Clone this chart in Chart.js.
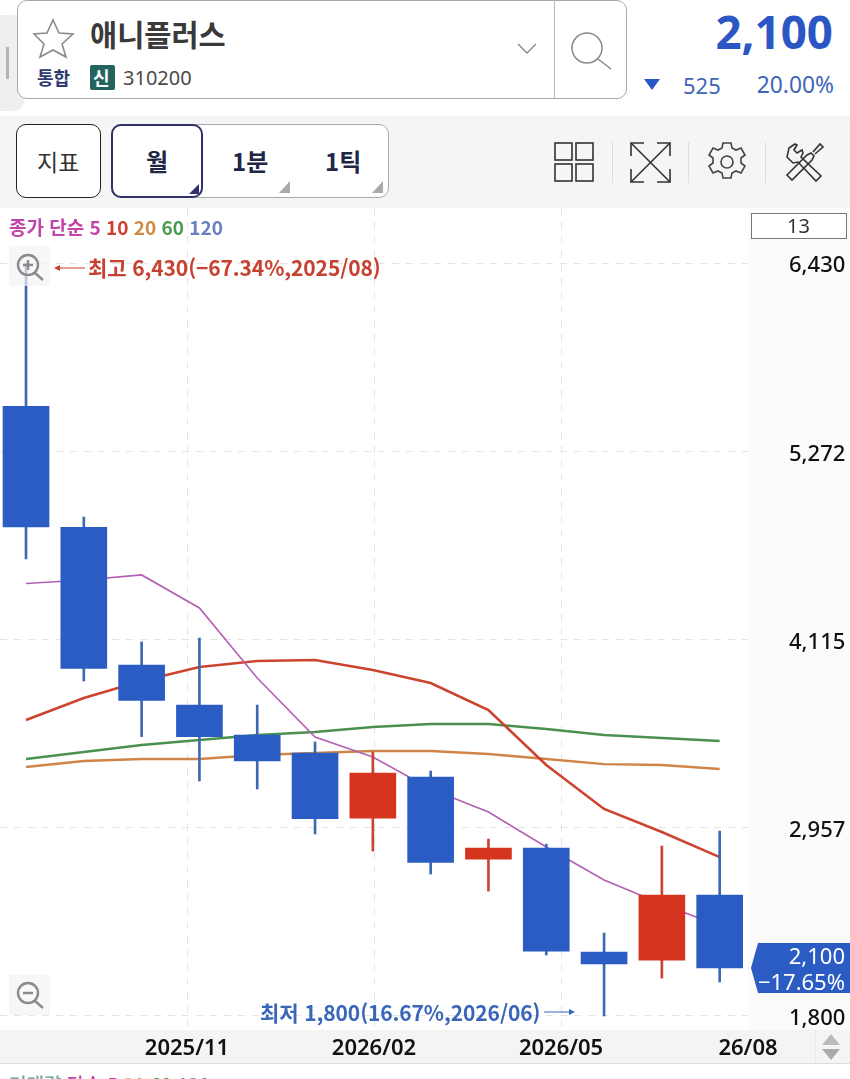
<!DOCTYPE html>
<html lang="ko">
<head>
<meta charset="utf-8">
<title>애니플러스</title>
<script src="https://cdn.jsdelivr.net/npm/chart.js@4/dist/chart.umd.min.js"></script>
<style>
  html, body { margin: 0; padding: 0; background: #fff; width: 850px; height: 1079px; overflow: hidden; }
  body { position: relative; font-family: "Noto Sans CJK KR", "Noto Sans", sans-serif; }
  .abs { position: absolute; white-space: nowrap; line-height: 1; }
  .box { position: absolute; box-sizing: border-box; }
  svg { position: absolute; overflow: visible; }
  #chartWrap { position: absolute; left: 0; top: 208px; width: 850px; height: 856px; }
</style>
</head>
<body>
<!-- 상단 종목 영역 -->
<div class="box" style="left:-6px;top:15px;width:30px;height:96px;background:#efefef;border-radius:0 10px 10px 0"></div>
<div class="box" style="left:6px;top:47px;width:3px;height:32px;background:#b5b5b5"></div>
<div class="box" style="left:17px;top:0;width:610px;height:99px;background:#fff;border:1.5px solid #a8a8a8;border-radius:10px"></div>
<div class="box" style="left:554px;top:0;width:1px;height:98px;background:#b8b8b8"></div>
<svg style="left:32px;top:18px" width="44" height="42" viewBox="0 0 44 42"><polygon points="21,2 27,15 41,16 30,26 34,39 21,32 8,39 12,26 2,16 15,15" fill="none" stroke="#8a8a8a" stroke-width="1.6"/></svg>
<div class="abs" style="left:90px;top:19px;font-size:29.5px;font-weight:700;color:#3a3a3a">애니플러스</div>
<div class="abs" style="left:37px;top:68px;font-size:18px;font-weight:700;color:#2f3a70">통합</div>
<div class="box" style="left:90px;top:65px;width:25px;height:25px;background:#23645f;border-radius:2px"></div>
<div class="abs" style="left:93px;top:68px;font-size:18px;font-weight:700;color:#fff">신</div>
<div class="abs" style="left:123px;top:68px;font-size:20px;color:#4a4a4a;font-family:'Noto Sans'">310200</div>
<svg style="left:517px;top:42px" width="22" height="14"><polyline points="1,2 10,11 19,2" fill="none" stroke="#888" stroke-width="1.4"/></svg>
<svg style="left:568px;top:28px" width="46" height="44"><circle cx="19" cy="20" r="15" fill="none" stroke="#8a8a8a" stroke-width="1.5"/><line x1="30" y1="31" x2="43" y2="41" stroke="#8a8a8a" stroke-width="1.5"/></svg>
<div class="abs" style="right:17px;top:9px;font-size:45.7px;font-weight:700;color:#2b56c4;font-family:'Noto Sans'">2,100</div>
<svg style="left:644px;top:79px" width="18" height="13"><polygon points="0,0 16,0 8,11" fill="#2b56c4"/></svg>
<div class="abs" style="left:683px;top:74px;font-size:22px;color:#3f66b8;font-family:'Noto Sans'">525</div>
<div class="abs" style="right:16px;top:74px;font-size:22.8px;color:#3f66b8;font-family:'Noto Sans'">20.00%</div>

<!-- 툴바 -->
<div class="box" style="left:0;top:116px;width:850px;height:92px;background:#f5f5f5"></div>
<div class="box" style="left:16px;top:124px;width:85px;height:74px;background:#fff;border:1.5px solid #222;border-radius:10px"></div>
<div class="abs" style="left:37px;top:150px;font-size:23px;color:#333">지표</div>
<div class="box" style="left:111px;top:124px;width:278px;height:74px;background:#fff;border:1.5px solid #aaa;border-radius:10px"></div>
<div class="box" style="left:111px;top:124px;width:92px;height:74px;border:2px solid #2f3168;border-radius:10px"></div>
<div class="abs" style="left:146px;top:149px;font-size:24px;font-weight:700;color:#222645">월</div>
<div class="abs" style="left:232px;top:149px;font-size:24px;font-weight:700;color:#222645">1분</div>
<div class="abs" style="left:325px;top:149px;font-size:24px;font-weight:700;color:#222645">1틱</div>
<svg style="left:189px;top:184px" width="12" height="12"><polygon points="10,0 10,10 0,10" fill="#2f3168"/></svg>
<svg style="left:279px;top:181px" width="12" height="13"><polygon points="11,0 11,12 0,12" fill="#aaa"/></svg>
<svg style="left:372px;top:181px" width="12" height="13"><polygon points="11,0 11,12 0,12" fill="#aaa"/></svg>
<svg style="left:555px;top:143px" width="40" height="40" fill="none" stroke="#333" stroke-width="1.6"><rect x="0" y="0" width="17" height="17"/><rect x="21" y="0" width="17" height="17"/><rect x="0" y="21" width="17" height="17"/><rect x="21" y="21" width="17" height="17"/></svg>
<div class="box" style="left:612px;top:142px;width:1px;height:41px;background:#ddd"></div>
<svg style="left:630px;top:142px" width="42" height="42" fill="none" stroke="#333" stroke-width="1.6"><line x1="1" y1="1" x2="40" y2="40"/><line x1="40" y1="1" x2="1" y2="40"/><polyline points="1,14 1,1 14,1"/><polyline points="27,1 40,1 40,14"/><polyline points="1,27 1,40 14,40"/><polyline points="27,40 40,40 40,27"/></svg>
<div class="box" style="left:688px;top:142px;width:1px;height:41px;background:#ddd"></div>
<svg style="left:707px;top:142px" width="40" height="40" viewBox="0 0 40 40" fill="none" stroke="#444" stroke-width="1.6"><path d="M16 1h8l1 5 4 2 5-2 4 7-4 3v5l4 3-4 7-5-2-4 2-1 5h-8l-1-5-4-2-5 2-4-7 4-3v-5l-4-3 4-7 5 2 4-2z"/><circle cx="20" cy="20" r="6"/></svg>
<div class="box" style="left:765px;top:142px;width:1px;height:41px;background:#ddd"></div>
<svg style="left:785px;top:142px" width="40" height="40" viewBox="0 0 40 40" fill="none" stroke="#333" stroke-width="1.6"><path d="M4 6l6-4 2 1-3 5 3 3 5-3 1 3-2 4 20 19-5 5L13 20l-5 1-6-6z"/><path d="M2 33L22 13l4-2 3 3-2 4L7 38z"/><path d="M28 10l7-8 3 3-8 7"/></svg>

<!-- 차트 배경 -->
<div class="box" style="left:748px;top:208px;width:102px;height:822px;background:#fbfbfb"></div>
<div class="box" style="left:0;top:1030px;width:850px;height:34px;background:#f4f4f4;border-bottom:1px solid #ddd"></div>
<div id="chartWrap"><canvas id="chart"></canvas></div>

<!-- 범례, 최고/최저 -->
<div class="abs" style="left:9px;top:217px;font-size:19px;font-weight:600;letter-spacing:0">
  <span style="color:#c244a8">종가 단순 5</span> <span style="color:#d0402f">10</span> <span style="color:#d08a4a">20</span> <span style="color:#4a9a50">60</span> <span style="color:#6a80c0">120</span>
</div>
<div class="box" style="left:751px;top:213px;width:96px;height:26px;background:#fff;border:1px solid #777"></div>
<div class="abs" style="left:787px;top:216px;font-size:20px;color:#333;font-family:'Noto Sans'">13</div>

<div class="box" style="left:9px;top:246px;width:41px;height:40px;background:rgba(243,243,243,.7)"></div>
<svg style="left:16px;top:254px" width="30" height="30" fill="none" stroke="#8b8b8b" stroke-width="2.4"><circle cx="12" cy="11" r="10"/><line x1="19" y1="19" x2="27" y2="26"/><line x1="7" y1="11" x2="17" y2="11"/><line x1="12" y1="6" x2="12" y2="16"/></svg>
<svg style="left:54px;top:263px" width="32" height="10"><line x1="2" y1="5" x2="31" y2="5" stroke="#c8402f" stroke-width="1"/><polygon points="0,5 6,2 6,8" fill="#c8402f"/></svg>
<div class="abs" style="left:88px;top:257px;font-size:21px;font-weight:600;color:#c8402f;letter-spacing:-.1px">최고 6,430(−67.34%,2025/08)</div>

<div class="box" style="left:9px;top:975px;width:41px;height:40px;background:rgba(243,243,243,.7)"></div>
<svg style="left:16px;top:982px" width="30" height="30" fill="none" stroke="#8b8b8b" stroke-width="2.4"><circle cx="12" cy="11" r="10"/><line x1="19" y1="19" x2="27" y2="26"/><line x1="7" y1="11" x2="17" y2="11"/></svg>
<div class="abs" style="left:260px;top:1002px;font-size:21px;font-weight:600;color:#3a66b8;letter-spacing:-.1px">최저 1,800(16.67%,2026/06)</div>
<svg style="left:544px;top:1007px" width="32" height="10"><line x1="0" y1="5" x2="29" y2="5" stroke="#3a66b8" stroke-width="1"/><polygon points="31,5 25,2 25,8" fill="#3a66b8"/></svg>

<!-- 현재가 태그 -->
<div class="box" style="left:751px;top:943px;width:99px;height:50px;background:#2b5cc3;clip-path:polygon(7px 0,100% 0,100% 100%,7px 100%,0 50%)"></div>
<div class="abs" style="right:5px;top:944px;font-size:22px;color:#fff;font-family:'Noto Sans'">2,100</div>
<div class="abs" style="right:5px;top:970px;font-size:22px;color:#fff;font-family:'Noto Sans'">−17.65%</div>

<svg style="left:822px;top:1034px" width="20" height="26"><polygon points="9,0 18,11 0,11" fill="#bbb"/><polygon points="0,15 18,15 9,26" fill="#aaa"/></svg>
<div class="box" style="left:815px;top:1030px;width:1px;height:34px;background:#e8e8e8"></div>

<!-- 아래 패널 범례 (잘림) -->
<div class="abs" style="left:9px;top:1074px;font-size:19px;font-weight:500">
  <span style="color:#6aa89a">거래량</span> <span style="color:#c244a8">단순 5</span> <span style="color:#d8b060">20</span> <span style="color:#4a9a50">60</span> <span style="color:#888">120</span>
</div>

<script>
// 월봉 13개 (시가/고가/저가/종가)
const opens  = [5548, 4805, 3958, 3712, 3528, 3417, 3017, 3269, 2765, 2833, 2193, 2144, 2544];
const highs  = [6430, 4868, 4100, 4124, 3712, 3485, 3423, 3306, 2888, 2857, 2310, 2845, 2937];
const lows   = [4610, 3860, 3518, 3245, 3196, 2919, 2814, 2673, 2568, 2175, 1800, 2033, 2009];
const closes = [4807, 3937, 3740, 3518, 3368, 3014, 3294, 2744, 2833, 2199, 2120, 2544, 2095];

// 이동평균선
const ma5  = [4459, 4481, 4512, 4309, 3878, 3515, 3392, 3196, 3054, 2839, 2636, 2488, 2353];
const ma10 = [3620, 3755, 3860, 3946, 3983, 3989, 3927, 3847, 3681, 3343, 3073, 2931, 2777];
const ma20 = [3331, 3368, 3380, 3380, 3405, 3417, 3429, 3429, 3411, 3380, 3349, 3343, 3319];
const ma60 = [3380, 3423, 3466, 3497, 3528, 3546, 3577, 3595, 3595, 3565, 3528, 3509, 3491];

const priceTicks = [1800, 2957, 4115, 5272, 6430];
const timeTicks  = [2.785, 6.02, 9.256, 12.49];
const timeLabels = ['2025/11', '2026/02', '2026/05', '26/08'];

const UP = '#d5341e', DOWN = '#2b5cc3';
const UP_WICK = '#c8452f', DOWN_WICK = '#3d68b4';
const isUp = closes.map((c, i) => c > opens[i]);

const lineSet = (label, data, color, width) => ({
    type: 'line', label, order: 5, borderColor: color, borderWidth: width,
    pointRadius: 0, tension: 0, fill: false,
    data: data.map((y, x) => ({ x, y }))
});

// 축 라벨 때문에 차트 영역이 줄어들지 않게
const noPadding = s => { s.paddingTop = s.paddingBottom = s.paddingLeft = s.paddingRight = 0; };

new Chart(document.getElementById('chart'), {
    data: {
        datasets: [
            {
                type: 'bar', label: '몸통', order: 1, grouped: false, barThickness: 46,
                backgroundColor: isUp.map(u => u ? UP : DOWN),
                data: opens.map((o, x) => ({ x, y: [o, closes[x]] }))
            },
            {
                type: 'bar', label: '꼬리', order: 2, grouped: false, barThickness: 2,
                backgroundColor: isUp.map(u => u ? UP_WICK : DOWN_WICK),
                data: lows.map((l, x) => ({ x, y: [l, highs[x]] }))
            },
            lineSet('5', ma5, '#b45fb4', 1.6),
            lineSet('10', ma10, '#cc4430', 2.6),
            lineSet('20', ma20, '#d08548', 2.4),
            lineSet('60', ma60, '#4a9150', 2.4)
        ]
    },
    options: {
        responsive: true,
        maintainAspectRatio: false,
        animation: false,
        layout: { padding: 0 },
        plugins: { legend: { display: false }, tooltip: { enabled: false } },
        scales: {
            x: {
                type: 'linear', min: -0.45, max: 12.49, offset: false,
                afterBuildTicks: s => { s.ticks = timeTicks.map(value => ({ value })); },
                afterFit: s => { s.height = 34; noPadding(s); },
                grid: {
                    offset: false, drawTicks: false,
                    color: c => (c.index === timeTicks.length - 1 ? 'transparent' : '#e4e4e4')
                },
                border: { display: false, dash: [7, 7] },
                ticks: {
                    maxRotation: 0, autoSkip: false, padding: 6,
                    font: { family: 'Noto Sans', size: 22, weight: '600' }, color: '#111',
                    callback: v => timeLabels[timeTicks.indexOf(v)]
                }
            },
            y: {
                position: 'right', min: 1713.9, max: 6768.2,
                afterBuildTicks: s => { s.ticks = priceTicks.map(value => ({ value })); },
                afterFit: s => { s.width = 102; noPadding(s); },
                grid: { color: '#e4e4e4', drawTicks: false },
                border: { display: false, dash: [7, 7] },
                ticks: {
                    autoSkip: false, padding: 41, labelOffset: 3,
                    font: { family: 'Noto Sans', size: 22, weight: '500' }, color: '#111',
                    callback: v => v.toLocaleString('en-US')
                }
            }
        }
    }
});
</script>
</body>
</html>
